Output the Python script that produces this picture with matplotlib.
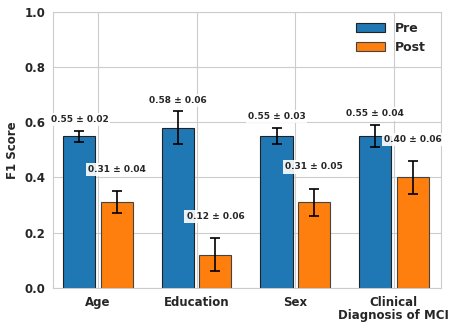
import matplotlib
matplotlib.use("Agg")
import matplotlib.pyplot as plt
import seaborn as sns
import numpy as np

sns.set_style("whitegrid")

categories = ["Age", "Education", "Sex", "Clinical\nDiagnosis of MCI"]
pre_mean = [0.55, 0.58, 0.55, 0.55]
pre_std = [0.02, 0.06, 0.03, 0.04]
post_mean = [0.31, 0.12, 0.31, 0.40]
post_std = [0.04, 0.06, 0.05, 0.06]

x = np.arange(len(categories))
w = 0.325
off = 0.19

fig = plt.figure(figsize=(4.59, 3.29), dpi=100)
ax = fig.add_axes([0.115, 0.125, 0.846, 0.839])
ax.set_axisbelow(True)

ekw = dict(elinewidth=1.2, capthick=1.2, ecolor="black")
ax.bar(x - off, pre_mean, w, yerr=pre_std, capsize=3.5, color="#1f77b4",
       edgecolor="#222222", linewidth=0.8, label="Pre", error_kw=ekw)
ax.bar(x + off, post_mean, w, yerr=post_std, capsize=3.5, color="#ff7f0e",
       edgecolor="#444444", linewidth=0.8, label="Post", error_kw=ekw)

box = dict(facecolor="white", edgecolor="none", pad=1.5, alpha=0.9)
for i in range(len(categories)):
    ax.text(x[i] - off, pre_mean[i] + pre_std[i] + 0.04,
            f"{pre_mean[i]:.2f} ± {pre_std[i]:.2f}", ha="center", va="center",
            fontsize=6.5, fontweight="bold", color=".15", bbox=box)
    ax.text(x[i] + off, post_mean[i] + post_std[i] + 0.078,
            f"{post_mean[i]:.2f} ± {post_std[i]:.2f}", ha="center", va="center",
            fontsize=6.5, fontweight="bold", color=".15", bbox=box)

ax.set_xlim(-0.46, 3.48)
ax.set_ylim(0, 1.0)
ax.set_xticks(x)
ax.set_xticklabels(categories, fontsize=8.5, fontweight="bold", linespacing=1.0)
ax.set_yticks([0, 0.2, 0.4, 0.6, 0.8, 1.0])
ax.set_yticklabels(["0.0", "0.2", "0.4", "0.6", "0.8", "1.0"], fontsize=8.5,
                   fontweight="bold")
ax.set_ylabel("F1 Score", fontsize=8.5, fontweight="bold", labelpad=4)
ax.tick_params(axis="both", pad=2)

leg = ax.legend(loc="upper right", frameon=False, prop={"weight": "bold", "size": 9},
                bbox_to_anchor=(0.99, 1.005), handlelength=2.3)

fig.savefig("out.png", dpi=100)
